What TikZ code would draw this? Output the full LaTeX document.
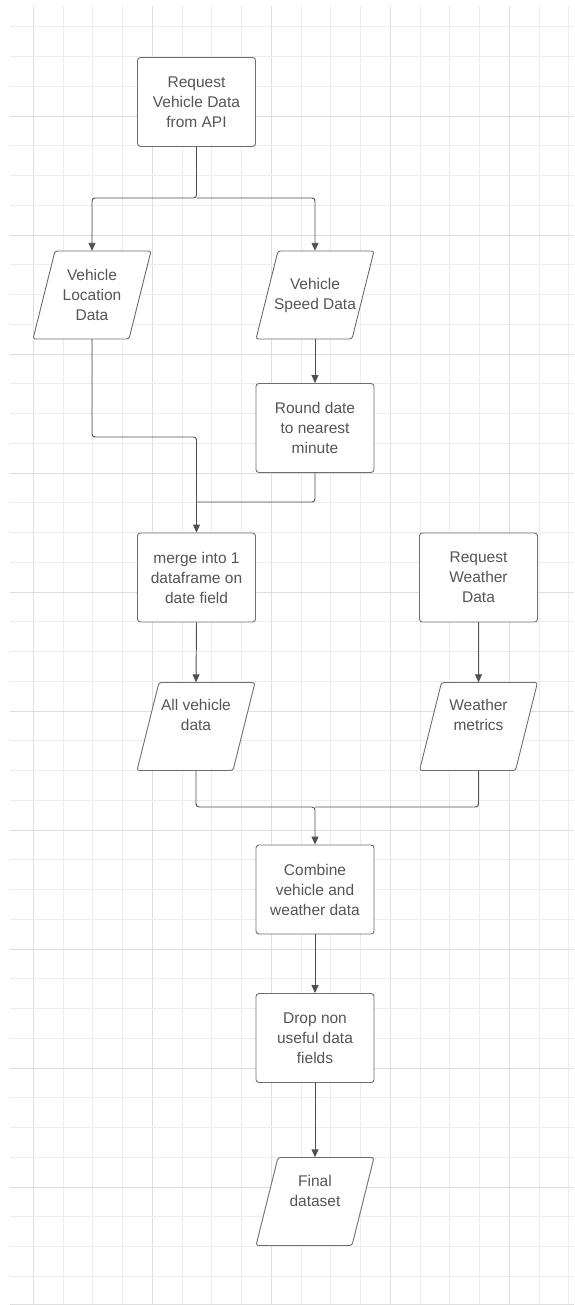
\documentclass[tikz,border=0pt]{standalone}
\usepackage{fontspec}
\setmainfont{Liberation Sans}
\usetikzlibrary{arrows.meta,calc}
\definecolor{gridminor}{RGB}{236,236,236}
\definecolor{gridmajor}{RGB}{222,222,222}
\definecolor{edgecol}{RGB}{110,110,110}
\definecolor{wire}{RGB}{80,80,80}
\definecolor{txt}{RGB}{85,85,85}
\newcommand\datanode[4]{%
  \draw[databorder] (#2-37,#3-44) -- (#2+59,#3-44) -- (#2+37,#3+44) -- (#2-59,#3+44) -- cycle;
  \node[datatext] (#1) at (#2,#3) {#4};}
\begin{document}
\begin{tikzpicture}[x=1pt,y=-1pt,
  labelfont/.style={font=\fontsize{15.5}{20}\selectfont, text=txt, align=center},
  proc/.style={draw=edgecol, line width=0.9pt, rounded corners=3pt, fill=white,
    minimum width=118pt, minimum height=89pt, inner sep=0pt, labelfont},
  datatext/.style={minimum width=96pt, minimum height=88pt, inner sep=0pt, labelfont},
  databorder/.style={draw=edgecol, line width=0.9pt, rounded corners=2.5pt, fill=white},
  wireline/.style={draw=wire, line width=0.95pt, rounded corners=3pt},
  conn/.style={wireline, -{Triangle[length=8pt,width=7pt]}},
]
\useasboundingbox (0,0) rectangle (574,1305);
\fill[white] (0,0) rectangle (574,1305);
% grid
\foreach \k in {0,...,18} {
  \pgfmathsetmacro\xx{33.25+29.75*\k}
  \draw[gridminor, line width=0.9pt] (\xx,6) -- (\xx,1305);
}
\foreach \k in {0,4,...,16} {
  \pgfmathsetmacro\xx{33.25+29.75*\k}
  \draw[gridmajor, line width=0.9pt] (\xx,6) -- (\xx,1305);
}
\foreach \k in {0,...,42} {
  \pgfmathsetmacro\yy{26.75+29.75*\k}
  \draw[gridminor, line width=0.9pt] (10,\yy) -- (574,\yy);
}
\foreach \k in {3,7,...,39} {
  \pgfmathsetmacro\yy{26.75+29.75*\k}
  \draw[gridmajor, line width=0.9pt] (10,\yy) -- (574,\yy);
}
\draw[gridmajor, line width=0.9pt] (10,1304.3) -- (574,1304.3);

% nodes
\node[proc] (req) at (196.5,102) {Request\\Vehicle Data\\from API};
\datanode{loc}{92}{295}{Vehicle\\Location\\Data}
\datanode{spd}{315}{295}{Vehicle\\Speed Data}
\node[proc] (rnd) at (315,428) {Round date\\to nearest\\minute};
\node[proc] (mrg) at (196.5,577.5) {merge into 1\\dataframe on\\date field};
\node[proc] (rwd) at (478.5,577.5) {Request\\Weather\\Data};
\datanode{all}{196}{726.5}{All vehicle\\data\\[4pt]}
\datanode{wm}{478.5}{726.5}{Weather\\metrics\\[4pt]}
\node[proc] (cmb) at (315,889.5) {Combine\\vehicle and\\weather data};
\node[proc] (drp) at (315,1038) {Drop non\\useful data\\fields};
\datanode{fin}{315}{1201.5}{Final\\dataset\\[2pt]}

% junction points
\coordinate (split) at (196.5,198);
\coordinate (jl) at (196.5,437);
\coordinate (jr) at (196.5,502);
\coordinate (jb) at (315,807);

% connectors
\draw[conn] (req.south) -- (split) -| (loc.north);
\draw[conn] (split) -| (spd.north);
\draw[conn] (spd.south) -- (rnd.north);
\draw[conn] (loc.south) |- (jl) -- (mrg.north);
\draw[wireline] (rnd.south) |- (jr);
\draw[conn] (mrg.south) -- (all.north);
\draw[conn] (rwd.south) -- (wm.north);
\draw[conn] (all.south) |- (jb) -- (cmb.north);
\draw[wireline] (wm.south) |- (jb);
\draw[conn] (cmb.south) -- (drp.north);
\draw[conn] (drp.south) -- (fin.north);
\end{tikzpicture}
\end{document}
